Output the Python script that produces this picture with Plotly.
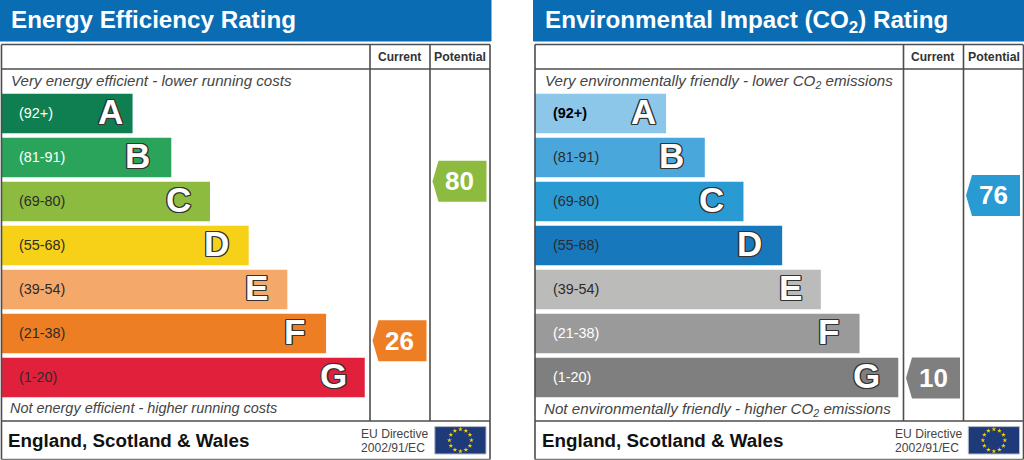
import math
import plotly.graph_objects as go

W = 1024
H = 460
FONT = "Liberation Sans"

bands = ["A", "B", "C", "D", "E", "F", "G"]
ranges = ["(92+)", "(81-91)", "(69-80)", "(55-68)", "(39-54)", "(21-38)", "(1-20)"]
band_lengths = [34, 44, 54, 64, 74, 84, 94]

energy_colors = ["#0f7f52", "#2aa45b", "#8dbb3f", "#f7d117", "#f4a96b", "#ed7e24", "#e1213c"]
enviro_colors = ["#8cc6e8", "#4aa7dc", "#2a9ad3", "#1778bc", "#bbbbba", "#9a9a9a", "#7f7f7f"]
energy_range_colors = ["#ffffff", "#ffffff", "#2b2b2b", "#2b2b2b", "#2b2b2b", "#2b2b2b", "#2b2b2b"]
enviro_range_colors = ["#000000", "#2b2b2b", "#2b2b2b", "#2b2b2b", "#2b2b2b", "#ffffff", "#ffffff"]

columns = ["Current", "Potential"]
energy_scores = [26, 80]
enviro_scores = [10, 76]
energy_score_colors = ["#ed7e24", "#8dbb3f"]
enviro_score_colors = ["#7f7f7f", "#2a9ad3"]

energy_score_range = [6.08, 110.42]
enviro_score_range = [2.22, 113.6]

# how far each big letter sits in from the end of its bar
letter_inset = [8, 19, 17, 18, 17, 19, 16]

panels = [
    dict(off=0, title="Energy Efficiency Rating", title_y=20,
         top="Very energy efficient - lower running costs", top_size=15.1, bottom_size=14.45,
         bottom="Not energy efficient - higher running costs", note_y=0,
         colors=energy_colors, range_colors=energy_range_colors,
         scores=energy_scores, score_colors=energy_score_colors, score_range=energy_score_range),
    dict(off=533.5, title="Environmental Impact (CO<sub>2</sub>) Rating", title_y=22,
         top="Very environmentally friendly - lower CO<sub>2</sub> emissions", top_size=15.15, bottom_size=15.15,
         bottom="Not environmentally friendly - higher CO<sub>2</sub> emissions", note_y=1,
         colors=enviro_colors, range_colors=enviro_range_colors,
         scores=enviro_scores, score_colors=enviro_score_colors, score_range=enviro_score_range),
]


def px(x):
    return x / W


def py(y):
    return 1 - y / H


fig = go.Figure()
shapes = []
notes = []
axes = {}


def note(x, y, text, size, color="#333333", anchor="left", **kw):
    # annotations carry about 2px of padding on the left
    if anchor == "left":
        x = x - 2
    notes.append(dict(xref="paper", yref="paper", x=px(x), y=py(y), text=text, showarrow=False,
                      xanchor=anchor, yanchor="middle",
                      font=dict(family=FONT, size=size, color=color, **kw)))


def line(x0, y0, x1, y1, color="#4d4d4d", width=1.6):
    shapes.append(dict(type="line", xref="paper", yref="paper", x0=px(x0), y0=py(y0), x1=px(x1), y1=py(y1),
                       line=dict(color=color, width=width), layer="above"))


def rect(x0, y0, x1, y1, fill, edge=None):
    shapes.append(dict(type="rect", xref="paper", yref="paper", x0=px(x0), y0=py(y0), x1=px(x1), y1=py(y1),
                       fillcolor=fill, line=dict(color=edge or fill, width=1), layer="below"))


for i, p in enumerate(panels):
    off = p["off"]
    n = i * 3
    bar_x, col_x, flag_x = "x%d" % (n + 1), "x%d" % (n + 2), "x%d" % (n + 3)
    bar_y, col_y, flag_y = "y%d" % (n + 1), "y%d" % (n + 2), "y%d" % (n + 3)

    # bars in band lengths
    fig.add_trace(go.Bar(y=bands, x=band_lengths, orientation="h", marker=dict(color=p["colors"], line_width=0),
                         xaxis=bar_x, yaxis=bar_y, showlegend=False, hoverinfo="skip"))
    axes["xaxis%d" % (n + 1)] = dict(domain=[px(off + 1), px(off + 490)], range=[0, 126.36], visible=False,
                                     anchor=bar_y)
    axes["yaxis%d" % (n + 1)] = dict(domain=[py(399.5), py(91.5)], range=[6.5, -0.5], type="category",
                                     categoryorder="array", categoryarray=bands, visible=False, anchor=bar_x)

    for band, length, label, color, inset in zip(bands, band_lengths, ranges, p["range_colors"], letter_inset):
        notes.append(dict(xref=bar_x, yref=bar_y, x=length, y=band, text=band, showarrow=False, xanchor="right",
                          xshift=-inset, yshift=2, font=dict(family=FONT, size=35, color="#ffffff", weight="bold",
                          shadow="1.2px 0 0 #333,-1.2px 0 0 #333,0 1.2px 0 #333,0 -1.2px 0 #333,1px 1px 0 #333,-1px -1px 0 #333,1px -1px 0 #333,-1px 1px 0 #333")))
        notes.append(dict(xref=bar_x, yref=bar_y, x=0, y=band, text=label, showarrow=False, xanchor="left",
                          xshift=16, yshift=1, font=dict(family=FONT, size=14.4, color=color,
                                                         weight="bold" if label == "(92+)" and i == 1 else "normal")))

    # pointers sit on a score axis, in the Current/Potential columns
    fig.add_trace(go.Scatter(x=columns, y=p["scores"], mode="markers", marker=dict(size=1, opacity=0),
                             xaxis=col_x, yaxis=col_y, showlegend=False, hoverinfo="skip"))
    axes["xaxis%d" % (n + 2)] = dict(domain=[px(off + 369.5), px(off + 489.5)], type="category",
                                     categoryorder="array", categoryarray=columns, range=[-0.5, 1.5],
                                     visible=False, anchor=col_y)
    axes["yaxis%d" % (n + 2)] = dict(domain=[py(399.5), py(91.5)], range=p["score_range"], visible=False,
                                     anchor=col_x)
    for col, score, color in zip(columns, p["scores"], p["score_colors"]):
        shapes.append(dict(type="path", xref=col_x, yref=col_y, xsizemode="pixel", ysizemode="pixel",
                           xanchor=col, yanchor=score, path="M -27 0 L -21 -20.5 L 27 -20.5 L 27 20.5 L -21 20.5 Z",
                           fillcolor=color, line=dict(width=0), layer="above"))
        notes.append(dict(xref=col_x, yref=col_y, x=col, y=score, text=str(score), showarrow=False, yshift=0,
                          font=dict(family=FONT, size=26, color="#ffffff", weight="bold")))

    # EU flag
    hours = list(range(12))
    fig.add_trace(go.Scatter(x=[11 * math.sin(h * math.pi / 6) for h in hours],
                             y=[11 * math.cos(h * math.pi / 6) for h in hours],
                             mode="markers", marker=dict(symbol="star", size=3.6, color="#f5d000", line_width=0),
                             xaxis=flag_x, yaxis=flag_y, showlegend=False, hoverinfo="skip"))
    axes["xaxis%d" % (n + 3)] = dict(domain=[px(off + 434.8), px(off + 486)], range=[-25.6, 25.6], visible=False,
                                     anchor=flag_y)
    axes["yaxis%d" % (n + 3)] = dict(domain=[py(454), py(426.6)], range=[-13.7, 13.7], visible=False, anchor=flag_x)
    rect(off + 434.8, 426.6, off + 486, 454, "#1f3a78", "#b5bccb")

    # banner and frame
    rect(off, 0, min(off + 491, W), 41, "#0a6cb3", "#0a6cb3")
    line(off + 1.5, 44.5, min(off + 490, W - 1), 44.5)
    line(off + 1.5, 44.5, off + 1.5, 459.5)
    line(off + 490, 44.5, off + 490, 459.5)
    line(off + 1.5, 459.5, min(off + 490, W - 1), 459.5, "#777777")
    line(off + 1.5, 69, off + 490, 69)
    line(off + 1.5, 421, off + 490, 421)
    line(off + 370, 44.5, off + 370, 421)
    line(off + 430, 44.5, off + 430, 421)

    note(off + 11, p["title_y"], p["title"], 24.2, "#ffffff", weight="bold")
    note(off + 399, 57, "Current", 12, "#333333", "center", weight="bold")
    note(off + 460, 57, "Potential", 12.3, "#333333", "center", weight="bold")
    note(off + 11, 81 + p["note_y"], p["top"], p["top_size"], "#444444", style="italic")
    note(off + 10, 408 + p["note_y"], p["bottom"], p["bottom_size"], "#444444", style="italic")
    note(off + 8, 440, "England, Scotland &amp; Wales", 18.8, "#111111", weight="bold")
    note(off + 361, 433.5, "EU Directive", 12.1, "#444444")
    note(off + 361, 447.5, "2002/91/EC", 12.1, "#444444")

fig.update_layout(width=W, height=H, margin=dict(l=0, r=0, t=0, b=0, pad=0), paper_bgcolor="#ffffff",
                  plot_bgcolor="rgba(0,0,0,0)", bargap=0.104, showlegend=False, shapes=shapes, annotations=notes,
                  **axes)

fig.write_html("out.html", config={"displayModeBar": False},
               post_script="document.body.style.margin='0';document.body.style.overflow='hidden';")
